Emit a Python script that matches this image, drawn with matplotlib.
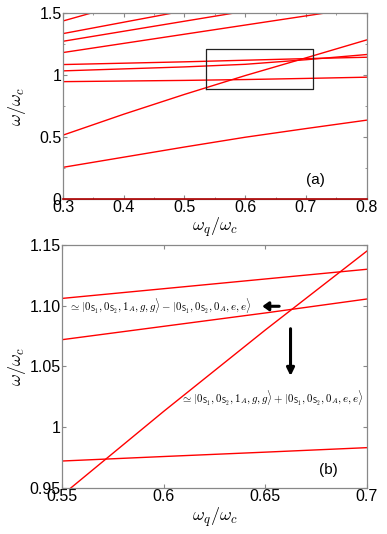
import numpy as np
import matplotlib
matplotlib.use('Agg')
import matplotlib.pyplot as plt
from matplotlib.ticker import MultipleLocator

plt.rcParams['font.family'] = ['Liberation Sans', 'DejaVu Sans']
plt.rcParams['mathtext.fontset'] = 'cm'

# panel (a): energy levels vs omega_q
xa = [0.3, 0.4, 0.5, 0.6, 0.7, 0.8]
a_low = [0.256, 0.338, 0.420, 0.499, 0.569, 0.637]
a_steep = [0.516, 0.685, 0.845, 0.997, 1.140, 1.285]
a_flat1 = [0.948, 0.953, 0.958, 0.965, 0.974, 0.984]
a_flat2 = [1.035, 1.051, 1.067, 1.088, 1.125, 1.167]
a_flat3 = [1.086, 1.097, 1.108, 1.121, 1.134, 1.145]
a_up1 = [1.183, 1.257, 1.331, 1.405, 1.479, 1.553]
a_up2 = [1.274, 1.355, 1.436, 1.517]
a_up3 = [1.336, 1.428, 1.520]
a_up4_x = [0.3, 0.35]
a_up4 = [1.438, 1.507]
a_up5_x = [0.3, 0.32]
a_up5 = [1.497, 1.524]
a_zero = [0, 0, 0, 0, 0, 0]
box = (0.536, 0.885, 0.711, 1.215)

# panel (b): zoom of the boxed region
xb = [0.55, 0.60, 0.65, 0.70]
b_upper = [1.106, 1.114, 1.122, 1.130]
b_lower = [1.072, 1.083, 1.094, 1.1055]
b_bottom = [0.972, 0.9757, 0.9793, 0.983]
b_steep = [0.944, 1.013, 1.080, 1.145]

red = '#ff0000'
grey = '#888888'

fig = plt.figure(figsize=(3.87, 5.34), dpi=100)
ax1 = fig.add_axes([0.1628, 0.6273, 0.7847, 0.3478])
ax2 = fig.add_axes([0.161, 0.0867, 0.787, 0.4545])

for y in [a_low, a_steep, a_flat1, a_flat2, a_flat3, a_up1]:
    ax1.plot(xa, y, color=red, lw=1.0)
ax1.plot(xa[:4], a_up2, color=red, lw=1.0)
ax1.plot(xa[:3], a_up3, color=red, lw=1.0)
ax1.plot(a_up4_x, a_up4, color=red, lw=1.0)
ax1.plot(a_up5_x, a_up5, color=red, lw=1.0)
ax1.plot(xa, a_zero, color='#b00000', lw=1.2, clip_on=False, zorder=5)
x0, y0, x1, y1 = box
ax1.plot([x0, x1, x1, x0, x0], [y0, y0, y1, y1, y0], color='#222222', lw=0.9)
ax1.set_xlim(0.3, 0.8)
ax1.set_ylim(0, 1.5)
ax1.set_xticks([0.3, 0.4, 0.5, 0.6, 0.7, 0.8])
ax1.set_xticklabels(['0.3', '0.4', '0.5', '0.6', '0.7', '0.8'])
ax1.set_yticks([0, 0.5, 1, 1.5])
ax1.set_yticklabels(['0', '0.5', '1', '1.5'])
ax1.xaxis.set_minor_locator(MultipleLocator(0.05))
ax1.yaxis.set_minor_locator(MultipleLocator(0.25))
ax1.text(0.7, 0.12, '(a)', fontsize=11)
ax1.set_xlabel(r'$\omega_q/\omega_c$', fontsize=13, labelpad=0)
ax1.set_ylabel(r'$\omega/\omega_c$', fontsize=13)
ax1.yaxis.set_label_coords(-0.115, 0.5)

for y in [b_upper, b_lower, b_bottom, b_steep]:
    ax2.plot(xb, y, color=red, lw=1.0)
ax2.set_xlim(0.55, 0.7)
ax2.set_ylim(0.95, 1.15)
ax2.set_xticks([0.55, 0.6, 0.65, 0.7])
ax2.set_xticklabels(['0.55', '0.6', '0.65', '0.7'])
ax2.set_yticks([0.95, 1.0, 1.05, 1.10, 1.15])
ax2.set_yticklabels(['0.95', '1', '1.05', '1.10', '1.15'])
ax2.text(0.6765, 0.9615, '(b)', fontsize=11)
ax2.set_xlabel(r'$\omega_q/\omega_c$', fontsize=13, labelpad=1)
ax2.set_ylabel(r'$\omega/\omega_c$', fontsize=13)
ax2.yaxis.set_label_coords(-0.113, 0.5)

ax2.text(0.5535, 1.0995,
         r'$\simeq|0_{\mathsf{S}_1},0_{\mathsf{S}_2},1_A,g,g\rangle-|0_{\mathsf{S}_1},0_{\mathsf{S}_2},0_A,e,e\rangle$',
         fontsize=7.8, va='center', ha='left')
ax2.text(0.6985, 1.024,
         r'$\simeq|0_{\mathsf{S}_1},0_{\mathsf{S}_2},1_A,g,g\rangle+|0_{\mathsf{S}_1},0_{\mathsf{S}_2},0_A,e,e\rangle$',
         fontsize=7.8, va='center', ha='right')
ax2.annotate('', xy=(0.6485, 1.0995), xytext=(0.6568, 1.0995),
             arrowprops=dict(arrowstyle='-|>,head_length=0.35,head_width=0.25',
                             color='black', lw=2.2, shrinkA=0, shrinkB=0))
ax2.annotate('', xy=(0.6624, 1.042), xytext=(0.6624, 1.081),
             arrowprops=dict(arrowstyle='-|>,head_length=0.45,head_width=0.22',
                             color='black', lw=2.2, shrinkA=0, shrinkB=0))

for ax in (ax1, ax2):
    for s in ax.spines.values():
        s.set_color(grey)
        s.set_linewidth(0.9)
    ax.tick_params(which='both', direction='in', color=grey, top=True, right=True,
                   labelsize=11.5, pad=1)
    ax.tick_params(which='major', length=3)
    ax.tick_params(which='minor', length=1.5)

fig.savefig('out.png', dpi=100)
